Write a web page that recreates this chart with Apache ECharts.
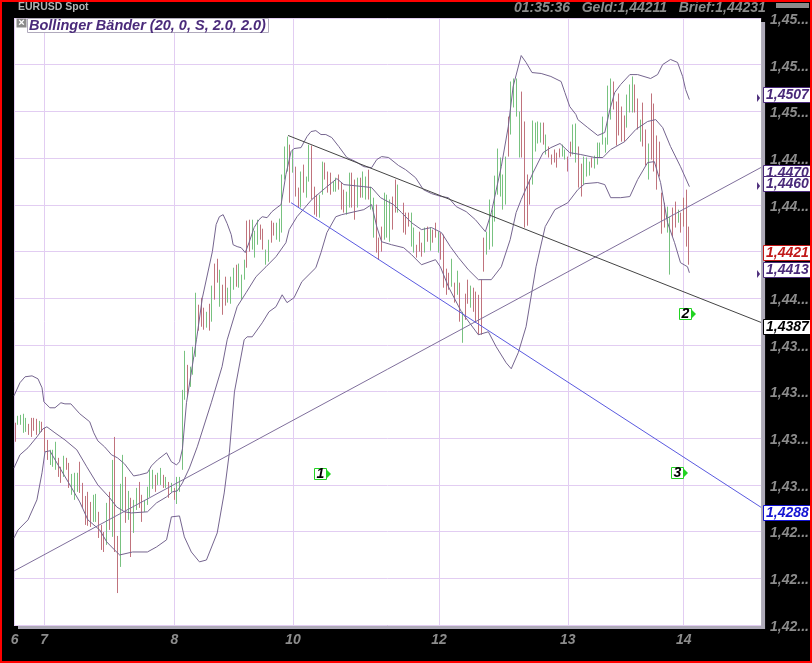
<!DOCTYPE html>
<html><head><meta charset="utf-8">
<style>html,body{margin:0;padding:0;background:#000}#c{width:812px;height:663px}</style>
<script src="https://cdn.jsdelivr.net/npm/echarts@6/dist/echarts.min.js"></script>
</head><body><div id="c"></div>
<script>
const instrument = 'EURUSD Spot';
const quoteLine = '01:35:36   Geld:1,44211   Brief:1,44231';
const indicatorName = 'Bollinger Bänder (20, 0, S, 2.0, 2.0)';

// day labels and the bar position where each day starts
const dayLabels = ['6','7','8','10','12','13','14'];
const dayBars = [0,11,59.3,103.3,157.5,205.3,248.3];

// price ticks and their (truncated) labels
const priceTicks = [1.4225,1.425,1.4275,1.43,1.4325,1.435,1.4375,1.44,1.4425,1.445,1.4475,1.45,1.4525,1.455];
const priceTickLabels = ['1,42...','1,42...','1,42...','1,43...','1,43...','1,43...','1,43...','1,44...','1,44...','1,44...','1,44...','1,45...','1,45...','1,45...'];

// high-low of each 30-minute bar
const barHigh = [1.43333,1.4337,1.43375,1.43381,1.43359,1.43327,1.43359,1.43359,1.43354,1.43343,1.43338,1.43306,1.43241,1.43188,1.43188,1.43231,1.43145,1.43097,1.43156,1.43145,1.43118,1.43059,1.43065,1.43065,1.43124,1.43011,1.42941,1.42963,1.42909,1.42947,1.42952,1.42856,1.42786,1.42748,1.42904,1.42963,1.43134,1.43257,1.42727,1.43006,1.43161,1.43043,1.42968,1.42931,1.4292,1.42984,1.43016,1.42947,1.4292,1.4299,1.43081,1.43081,1.43054,1.43065,1.43091,1.43054,1.43043,1.43016,1.43011,1.42984,1.43043,1.43043,1.43509,1.43718,1.43643,1.43633,1.4374,1.44029,1.43965,1.44002,1.43949,1.43927,1.4397,1.44067,1.44185,1.44211,1.44152,1.44072,1.44115,1.44056,1.44115,1.44163,1.44179,1.44185,1.44126,1.44206,1.44415,1.4442,1.4442,1.44361,1.4442,1.44394,1.44372,1.4426,1.44313,1.44415,1.44404,1.44404,1.44426,1.44662,1.44812,1.44865,1.44822,1.44796,1.44704,1.44592,1.44678,1.44715,1.44651,1.44822,1.44817,1.44597,1.44554,1.44554,1.44731,1.44726,1.44678,1.44672,1.44624,1.44645,1.44662,1.44619,1.44581,1.4457,1.44672,1.44672,1.44635,1.44645,1.44645,1.44678,1.44651,1.44688,1.44597,1.44538,1.44501,1.44324,1.44383,1.44565,1.44554,1.44528,1.44544,1.44635,1.44608,null,1.44511,1.44458,1.44458,1.44458,1.44378,1.44286,1.44356,1.44297,1.44378,1.44383,1.44378,1.44367,1.44404,1.44356,1.44351,1.4434,1.44158,1.44136,1.44211,1.44083,1.44147,1.44083,1.43927,1.44024,1.44099,1.44067,1.44056,1.44035,1.44018,1.44099,1.44324,1.44356,1.44528,1.44474,1.44656,1.44801,1.44753,1.44662,1.44758,1.44972,1.4516,1.45176,1.45176,1.44999,1.45106,1.44946,1.44662,1.44635,1.44951,1.4494,1.44946,1.4494,1.4494,1.44876,1.44812,1.44769,1.44796,1.44779,1.44801,1.44822,1.44796,1.44758,1.44838,1.4493,1.44935,1.44812,1.4472,1.44758,1.44753,1.44731,1.44753,1.44763,1.44833,1.44833,1.44972,1.4486,1.45138,1.45176,1.4516,1.45053,1.45096,1.45026,1.44978,1.4509,1.45144,1.45187,1.45144,1.45069,1.44956,1.45047,1.44903,1.44828,1.45096,1.45042,1.44871,1.44838,1.44565,1.44511,1.4449,1.44436,1.44485,1.44517,1.44474,1.44458,1.44538,1.44581,1.44383];
const barLow = [1.43231,1.43322,1.43322,1.43279,1.43284,1.43268,1.43257,1.4329,1.43268,1.43279,1.43284,1.43177,1.43134,1.43107,1.43097,1.43081,1.43043,1.43011,1.43043,1.43081,1.42984,1.42947,1.4292,1.42963,1.42957,1.42877,1.42786,1.42781,1.42775,1.42802,1.42802,1.42716,1.42652,1.42641,1.42679,1.42759,1.42722,1.42641,1.42421,1.42561,1.42866,1.42797,1.42813,1.42614,1.42743,1.42866,1.42877,1.42802,1.42856,1.42893,1.42936,1.42979,1.42963,1.43,1.43,1.42984,1.42984,1.42931,1.42963,1.4292,1.42898,1.42963,1.43081,1.43456,1.43472,1.43525,1.4359,1.43686,1.43826,1.43847,1.43831,1.43842,1.43826,1.43874,1.43992,1.44083,1.43954,1.43911,1.4396,1.43976,1.4397,1.44045,1.44061,1.44056,1.43992,1.44099,1.44163,1.44249,1.4426,1.44217,1.44286,1.44313,1.4426,1.44179,1.44195,1.44297,1.44335,1.44313,1.44302,1.44351,1.44635,1.44678,1.44511,1.44672,1.44544,1.44485,1.44485,1.44565,1.44538,1.44624,1.44528,1.44447,1.44436,1.44431,1.44554,1.44635,1.44565,1.44554,1.4457,1.4457,1.44581,1.44474,1.44458,1.44447,1.44485,1.44485,1.4442,1.44485,1.44538,1.44538,1.44528,1.44528,1.44474,1.44324,1.44244,1.44206,1.44249,1.44313,1.44324,1.44302,1.44367,1.44458,1.44458,null,1.44351,1.4434,1.44383,1.44276,1.44244,1.44217,1.44249,1.44222,1.44244,1.44302,1.44254,1.44297,1.44324,1.44244,1.44206,1.44056,1.44018,1.44045,1.44061,1.43976,1.44018,1.43874,1.43761,1.43884,1.4397,1.43949,1.43927,1.43868,1.43804,1.43804,1.44142,1.44233,1.4426,1.44276,1.4441,1.44554,1.44544,1.44474,1.44501,1.44758,1.44876,1.45021,1.44972,1.44753,1.44753,1.44378,1.44388,1.44501,1.44608,1.44785,1.44828,1.44833,1.44822,1.44769,1.44753,1.44715,1.44726,1.44699,1.44753,1.44758,1.44742,1.44678,1.44758,1.44769,1.44726,1.44592,1.44544,1.44608,1.44651,1.44656,1.44699,1.44694,1.44715,1.44753,1.44822,1.44779,1.44822,1.44956,1.4501,1.44817,1.44871,1.44838,1.44838,1.44913,1.44994,1.44994,1.44994,1.44903,1.44838,1.44812,1.4471,1.44635,1.44742,1.44678,1.44581,1.44651,1.44345,1.44378,1.44351,1.44126,1.44329,1.44378,1.44404,1.44351,1.44383,1.44276,1.44179];
const barDirs = ('rgggg'+'rrrrg'+'rrrgg'+'grrgr'+'rgggr'+'rrrrg'+'grrrg'+'rgrrg'+'grgrg'+'grrgg'+'ggrgg'+'rgrgr'+'ggggr'+'gggrr'+'rgrgr'+'rgrrg'+'ggrgg'+'grrgg'+'grrgg'+'rrggg'
 +'ggrgr'+'rgrgg'+'rrrgg'+'rrrgg'+'rrrgg'+'rrgrg'+'grggr'+'rrggg'+'rrggr'+'-rggr'+'rrgrg'+'rrgrr'+'rrgrg'+'rgrrg'+'rrrrr'+'ggggg'+'gggrg'+'gggrr'+'rrggg'+'grgrr'+'rrrgg'+'rrggr'+'rgggr'+'ggggg'+'ggrrr'+'rrggg'+'rrgrr'+'grrrr'+'rrggr'+'rgrr').split('');

// Bollinger band readings: [bar index, price]
const upperBand = [[-0.2,1.43477],[2,1.43547],[3.9,1.43579],[6.5,1.43584],[8.7,1.43568],[10.2,1.4352],[10.9,1.43445],[13.1,1.43413],[15,1.43413],[17.2,1.4344],[18.7,1.43434],[20.9,1.43434],[24.2,1.43381],[27.9,1.43338],[29.4,1.43279],[30.9,1.43236],[33.4,1.43204],[36,1.43161],[38.2,1.43145],[40.8,1.43113],[44.2,1.43048],[46.4,1.43054],[49.3,1.43065],[50.8,1.43102],[53,1.43134],[56.4,1.43172],[58.2,1.43124],[60.1,1.43107],[61.2,1.43124],[62.3,1.43193],[63.8,1.4344],[67.5,1.43777],[69.7,1.44002],[73.4,1.44249],[74.8,1.44394],[76,1.44436],[77.4,1.44447],[78.9,1.44399],[80.4,1.4434],[81.1,1.44286],[82.6,1.44276],[84.1,1.4427],[85.6,1.44244],[87,1.44297],[88.9,1.44378],[90.7,1.4442],[91.9,1.44436],[93.7,1.44431],[95.5,1.44463],[97.4,1.44485],[98.9,1.44501],[100.7,1.44662],[102.6,1.44785],[103.7,1.44801],[106.3,1.44806],[108.5,1.44865],[110,1.44892],[111.8,1.44897],[113.7,1.44876],[115.5,1.44876],[117.7,1.4486],[120.3,1.44812],[123.3,1.44753],[126.6,1.44731],[129.6,1.44704],[132.5,1.44699],[134.4,1.44742],[136.2,1.44758],[138.8,1.44753],[142.5,1.4471],[145.1,1.44688],[148.8,1.44645],[151.7,1.44581],[154.7,1.4456],[158.4,1.44544],[161,1.44538],[163.9,1.4449],[167.6,1.44463],[171,1.4442],[174.7,1.44356],[176.9,1.44458],[180.6,1.44704],[183.2,1.44919],[185,1.45133],[188,1.45299],[189.8,1.45262],[192,1.45208],[195.4,1.45203],[199,1.45187],[202.8,1.4516],[204.2,1.45101],[206,1.45026],[208.3,1.44983],[209,1.44956],[212.7,1.44913],[216.4,1.44871],[219,1.44887],[220.9,1.4501],[222.7,1.45101],[224.9,1.45144],[228.3,1.45197],[231.2,1.45197],[236,1.45176],[238.6,1.45197],[240.5,1.45251],[243.4,1.45278],[246,1.45262],[247.9,1.45187],[249,1.45117],[250.4,1.45063]];
const middleBand = [[-0.2,1.43091],[2,1.43161],[5,1.43199],[8.3,1.43257],[10.5,1.433],[12,1.43311],[15,1.43279],[18.7,1.43241],[23.1,1.43188],[26.8,1.43097],[30.9,1.43],[35.3,1.42931],[37.9,1.42882],[40.8,1.42856],[43.4,1.4285],[49.3,1.42856],[52.7,1.42904],[56.4,1.42936],[58.6,1.42963],[60.4,1.42968],[62.3,1.43011],[64.9,1.43091],[67.8,1.43204],[73,1.4344],[77,1.43633],[78.9,1.43777],[82.6,1.43954],[85.9,1.44029],[89.6,1.44115],[93.3,1.44168],[97,1.44222],[100.7,1.44297],[101.9,1.44367],[104.8,1.44436],[110.3,1.44528],[115.5,1.44592],[119.6,1.4464],[122.2,1.44608],[129.6,1.44597],[132.5,1.44592],[135.8,1.44538],[140.6,1.44501],[143.6,1.44458],[147.3,1.44404],[151,1.44367],[154.7,1.44378],[158.4,1.44351],[161.7,1.44276],[164.7,1.44217],[168.4,1.44152],[172.1,1.44099],[176.9,1.44099],[180.6,1.44168],[183.9,1.44313],[186.1,1.44458],[188,1.44528],[192.4,1.44672],[196.1,1.44779],[199,1.44806],[202.4,1.44828],[206,1.44779],[210.1,1.44769],[215.3,1.44753],[218.3,1.44753],[221.2,1.44796],[226.4,1.44838],[230.5,1.44903],[234.9,1.44946],[237.9,1.44956],[240.5,1.44913],[243.4,1.44812],[247.1,1.44704],[250.4,1.44597]];
const lowerBand = [[-0.2,1.42716],[1.3,1.42759],[5,1.42813],[8.3,1.4292],[10.2,1.43065],[11.3,1.43177],[13.1,1.43183],[15.7,1.43118],[21.2,1.42984],[24.2,1.42909],[27.2,1.42813],[31.6,1.42759],[34.2,1.42695],[37.1,1.42652],[39,1.42625],[43.8,1.42641],[49.3,1.42641],[52.7,1.42668],[56.4,1.42706],[58.2,1.42829],[61.2,1.42834],[63,1.42722],[65.6,1.42641],[68.6,1.42588],[71.2,1.42598],[75.2,1.42743],[77.8,1.42957],[79.7,1.43172],[81.6,1.43499],[85.2,1.43777],[86.3,1.43793],[88.2,1.43793],[91.9,1.43868],[94.4,1.43927],[97,1.43954],[99.3,1.44018],[101.1,1.43976],[103.7,1.44002],[106.6,1.44088],[111.8,1.44163],[113.7,1.44244],[115.9,1.44351],[119.2,1.44436],[121.4,1.44447],[129.6,1.44474],[132.5,1.44501],[134.4,1.44383],[136.2,1.44302],[139.9,1.44286],[144.4,1.4427],[147.3,1.44233],[151,1.44179],[156.2,1.44206],[158,1.44168],[161,1.44061],[165.8,1.43927],[172.1,1.43804],[175.8,1.4382],[178.7,1.4374],[182.4,1.43654],[184.3,1.43622],[186.9,1.43708],[189.8,1.43847],[193.5,1.44168],[196.9,1.44383],[200.5,1.44474],[205.3,1.44511],[209,1.44581],[211.6,1.44613],[216.4,1.44619],[219,1.44608],[221.2,1.44538],[224.9,1.44538],[228.3,1.44544],[231.2,1.44635],[234.9,1.44726],[237.4,1.44731],[239.7,1.44619],[242.3,1.44404],[244.9,1.44297],[247.1,1.4419],[249.7,1.44168],[250.4,1.44136]];

// hand-drawn trend lines: [bar index, price]
const trendPurple = [[-0.2,1.42539],[277,1.4470]];
const trendBlack = [[101.5,1.44871],[277,1.4387]];
const trendBlue = [[102.6,1.44511],[277,1.4288]];

// numbered signals
const signalLabels = ['1','2','3'];
const signalBars = [113.7,249.1,246];
const signalPrices = [1.43059,1.43917,1.43065];

// right-hand price tags
const tagPrices = [1.4507,1.4470,1.4460,1.4421,1.4413,1.4387,1.4288];
const tagTexts = ['1,4507','1,4470','1,4460','1,4421','1,4413','1,4387','1,4288'];
const tagColors = ['#4a2a7a','#4a2a7a','#4a2a7a','#c01818','#4a2a7a','#000000','#1414d2'];
const tagShift = [-3,6,-2,-6,-4,5,6];
const tagArrow = [1,0,1,0,1,0,0];

const FONT = '"Liberation Sans", Arial, sans-serif';
const GRID_LINE = '#e2cdf2', BAND = '#75658f', UP = '#78c280', DOWN = '#c0737c', GREYTXT = '#8c8c8c';

const barRows = barHigh.map((h,i)=>[i,barLow[i],h,barDirs[i]==='g'?1:0]).filter(r=>r[2]!=null);
const sigRows = signalLabels.map((t,i)=>[signalBars[i],signalPrices[i],t]);
const tagRows = tagPrices.map((p,i)=>[277,p,i]);

const line = (name,data,color)=>({type:'line',name,data,showSymbol:false,symbol:'none',smooth:false,z:3,
  lineStyle:{color,width:1},silent:true,animation:false});

const chart = echarts.init(document.getElementById('c'),null,{renderer:'canvas'});
chart.setOption({
  animation:false,
  backgroundColor:'#000',
  grid:{show:true,left:14,top:18,width:750,height:607,backgroundColor:'#fff',borderWidth:0,
    shadowColor:'#aeaab8',shadowBlur:0,shadowOffsetX:4,shadowOffsetY:4,containLabel:false},
  xAxis:{type:'value',min:-0.2,max:277,
    axisLine:{show:false},
    axisTick:{show:false,customValues:dayBars},
    splitLine:{show:true,lineStyle:{color:GRID_LINE,width:1}},
    axisLabel:{customValues:dayBars,margin:8,color:GREYTXT,fontFamily:FONT,fontSize:14,fontWeight:'bold',fontStyle:'italic',
      showMinLabel:true,showMaxLabel:true,formatter:v=>dayLabels[dayBars.indexOf(v)]||''}},
  yAxis:{type:'value',position:'right',min:1.4225,max:1.455,interval:0.0025,
    axisLine:{show:false},axisTick:{show:false},
    splitLine:{show:true,lineStyle:{color:GRID_LINE,width:1}},
    axisLabel:{margin:9,verticalAlign:'top',lineHeight:4,color:GREYTXT,fontFamily:FONT,fontSize:14,fontWeight:'bold',fontStyle:'italic',
      showMinLabel:true,showMaxLabel:true,
      formatter:v=>{const k=priceTicks.findIndex(t=>Math.abs(t-v)<1e-6);return k<0?'':priceTickLabels[k];}}},
  series:[
    {type:'custom',name:'bars',data:barRows,encode:{x:0,y:[1,2]},z:2,silent:true,animation:false,
      renderItem(p,api){
        const a=api.coord([api.value(0),api.value(1)]),b=api.coord([api.value(0),api.value(2)]);
        const x=Math.round(a[0])+0.5;
        return {type:'line',shape:{x1:x,y1:a[1],x2:x,y2:b[1]},
          style:{stroke:api.value(3)?UP:DOWN,lineWidth:1}};
      }},
    line('Upper',upperBand,BAND),
    line('Middle',middleBand,BAND),
    line('Lower',lowerBand,BAND),
    line('Trend support',trendPurple,'#7f6f9c'),
    line('Trend resistance',trendBlack,'#444444'),
    line('Trend channel',trendBlue,'#5a5ae0'),
    {type:'custom',name:'signals',data:sigRows,encode:{x:0,y:1},z:5,silent:true,animation:false,
      renderItem(p,api){
        const c=api.coord([api.value(0),api.value(1)]);
        const t=signalLabels[p.dataIndex];
        return {type:'group',x:Math.round(c[0]),y:Math.round(c[1]),children:[
          {type:'rect',shape:{x:-6.5,y:-5.5,width:12,height:11},style:{fill:'#fff',stroke:'#22d322',lineWidth:1}},
          {type:'polygon',shape:{points:[[6,-4],[10,0],[6,4]]},style:{fill:'#22d322'}},
          {type:'text',style:{text:t,x:-0.5,y:0,align:'center',verticalAlign:'middle',fill:'#000',
            font:'italic bold 14px '+FONT}}
        ]};
      }},
    {type:'custom',name:'tags',data:tagRows,encode:{x:0,y:1},z:6,silent:true,animation:false,clip:false,
      renderItem(p,api){
        const c=api.coord([api.value(0),api.value(1)]);
        const i=p.dataIndex,col=tagColors[i];
        const cy=Math.round(c[1]);
        const kids=[
          {type:'rect',z2:i*2,shape:{x:Math.round(c[0])+2.5,y:cy+tagShift[i]-7.5,width:48,height:15},style:{fill:'#fff',stroke:col,lineWidth:1}},
          {type:'text',z2:i*2+1,style:{text:tagTexts[i],x:Math.round(c[0])+5,y:cy+tagShift[i]+0.5,align:'left',verticalAlign:'middle',fill:col,
            font:'italic bold 14px '+FONT}}
        ];
        if(tagArrow[i])kids.push({type:'polygon',z2:i*2,shape:{points:[[c[0]-4,cy-4],[c[0]-1,cy],[c[0]-4,cy+4]]},style:{fill:col}});
        return {type:'group',children:kids};
      }}
  ],
  graphic:[
    {type:'text',z:10,x:18,y:2,style:{text:instrument,fill:'#b4b4b4',font:'bold 10.5px '+FONT}},
    {type:'text',z:10,x:514,y:1,style:{text:quoteLine,fill:'#8c8c8c',font:'italic bold 14px '+FONT}},
    {type:'rect',z:10,shape:{x:776,y:3,width:33,height:5},style:{fill:'#8c8c8c'}},
    {type:'rect',z:10,shape:{x:16.5,y:18.5,width:10,height:9},style:{fill:'#8a8a8a'}},
    {type:'text',z:11,x:21.5,y:23,style:{text:'×',fill:'#fff',align:'center',verticalAlign:'middle',font:'bold 11px '+FONT}},
    {type:'rect',z:10,shape:{x:27.5,y:18.5,width:241,height:14},style:{fill:'#fff',stroke:'#b0aabc',lineWidth:1}},
    {type:'text',z:11,x:29,y:26,style:{text:indicatorName,fill:'#4a2a7a',verticalAlign:'middle',font:'italic bold 14.5px '+FONT}},
    {type:'rect',z:20,silent:true,shape:{x:1,y:1,width:810,height:661},style:{fill:'none',stroke:'#ff0000',lineWidth:2}}
  ]
});
</script></body></html>
